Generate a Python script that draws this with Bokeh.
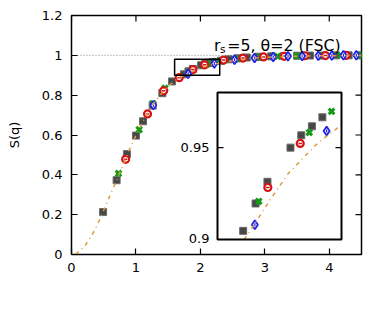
import numpy as np
from bokeh.plotting import figure
from bokeh.models import Range1d, FixedTicker, Span, Label
from bokeh.embed import file_html
from bokeh.resources import INLINE

# ---------------- data ----------------
gray_q = [0.49, 0.70, 0.86, 1.00, 1.11, 1.26, 1.41, 1.56, 1.745, 1.815, 1.882, 2.012, 2.073, 2.133,
          2.192, 2.32, 2.44, 2.58, 2.72, 2.90, 3.10, 3.30, 3.50, 3.70, 3.90, 4.10, 4.30, 4.50]
gray_S = [0.213, 0.373, 0.504, 0.597, 0.669, 0.748, 0.810, 0.869, 0.9047, 0.9196, 0.9314, 0.950, 0.9567, 0.9616,
          0.9665, 0.973, 0.980, 0.985, 0.989, 0.993, 0.995, 0.997, 0.998, 0.999, 0.999, 1.0, 1.0, 1.0]

green_q = [0.73, 1.05, 1.26, 1.45, 1.833, 2.118, 2.244, 2.55, 2.87, 3.20, 3.50, 3.85, 4.18, 4.50]
green_S = [0.407, 0.627, 0.758, 0.835, 0.9208, 0.9582, 0.9697, 0.982, 0.990, 0.995, 0.997, 0.999, 1.0, 1.0]

red_q = [0.84, 1.18, 1.43, 1.67, 1.884, 2.067, 2.36, 2.66, 2.98, 3.30, 3.62, 3.94, 4.26]
red_S = [0.478, 0.706, 0.822, 0.888, 0.9283, 0.9523, 0.976, 0.986, 0.992, 0.995, 0.998, 0.999, 1.0]

blue_q = [1.27, 1.811, 2.216, 2.53, 2.84, 3.13, 3.36, 3.58, 3.83, 4.04, 4.22, 4.42]
blue_S = [0.750, 0.908, 0.9591, 0.978, 0.987, 0.992, 0.995, 0.997, 0.998, 0.999, 1.0, 1.0]

line_q = [0.06, 0.10, 0.20, 0.30, 0.40, 0.50, 0.60, 0.70, 0.80, 0.90, 1.00, 1.10, 1.20, 1.30, 1.40,
          1.50, 1.60, 1.70, 1.80, 1.90, 2.00, 2.075, 2.15, 2.20, 2.295, 2.40, 2.60, 2.80, 3.00,
          3.50, 4.00, 4.50]
line_S = [0.003, 0.010, 0.040, 0.088, 0.148, 0.222, 0.298, 0.372, 0.450, 0.528, 0.598, 0.663, 0.720,
          0.770, 0.810, 0.845, 0.872, 0.893, 0.907, 0.922, 0.936, 0.9435, 0.951, 0.955, 0.962, 0.968,
          0.978, 0.985, 0.990, 0.996, 0.998, 0.999]

x_ticks = [0, 1, 2, 3, 4]
y_ticks = [0, 0.2, 0.4, 0.6, 0.8, 1, 1.2]
y_tick_labels = {0: "0", 1: "1"}
xlim = [0, 4.5]
ylim = [0, 1.2]
ref_level = 1.0

inset_xlim = [1.6, 2.3]
inset_ylim = [0.9, 0.98]
inset_y_ticks = [0.95]
inset_y_labels = ["0.9", "0.95"]
inset_y_label_vals = [0.9, 0.95]

title_main = "=5, θ=2 (FSC)"
title_r = "r"
title_sub = "s"
xlabel_main = "q/q"
xlabel_sub = "F"
ylabel = "S(q)"

# ---------------- layout ----------------
W, H = 378, 312
BL, BR, BT, BB = 71, 17, 15, 58
FW, FH = W - BL - BR, H - BT - BB
INS_L, INS_R, INS_T, INS_B = 146, 270, 77, 224   # inset box, px within frame
TICK = 6

FONT = "DejaVu Sans"
ORANGE = "#e09a40"
GRAY = "#474747"
GREEN = "#159a15"
RED = "#d41414"
BLUE = "#2222e6"

p = figure(width=W, height=H, x_range=Range1d(*xlim), y_range=Range1d(*ylim),
           output_backend="svg", toolbar_location=None,
           min_border_left=BL, min_border_right=BR, min_border_top=BT, min_border_bottom=BB)
p.background_fill_color = "white"
p.border_fill_color = "white"
p.outline_line_color = "black"
p.outline_line_width = 1.5
p.xgrid.visible = False
p.ygrid.visible = False

def style_axis(ax, ticks):
    ax.ticker = FixedTicker(ticks=ticks)
    ax.major_tick_in = TICK
    ax.major_tick_out = 0
    ax.major_tick_line_color = "black"
    ax.major_tick_line_width = 1.2
    ax.minor_tick_line_color = None
    ax.axis_line_color = None
    ax.major_label_text_font = FONT
    ax.major_label_text_color = "black"
    ax.major_label_text_font_size = "13px"

style_axis(p.xaxis[0], x_ticks)
p.xaxis[0].major_label_standoff = 8
style_axis(p.yaxis[0], y_ticks)
p.yaxis[0].major_label_overrides = y_tick_labels
p.yaxis[0].major_label_standoff = 9
p.yaxis[0].axis_label = ylabel
p.yaxis[0].axis_label_text_font = FONT
p.yaxis[0].axis_label_text_font_size = "13px"
p.yaxis[0].axis_label_text_font_style = "normal"
p.yaxis[0].axis_label_text_color = "black"
p.yaxis[0].axis_label_standoff = 17

# mirrored ticks on top and right
dx_px = (xlim[1] - xlim[0]) / FW
dy_px = (ylim[1] - ylim[0]) / FH
p.segment(x0=x_ticks, x1=x_ticks, y0=[ylim[1]] * len(x_ticks), y1=[ylim[1] - TICK * dy_px] * len(x_ticks),
          line_color="black", line_width=1.2)
p.segment(x0=[xlim[1]] * len(y_ticks), x1=[xlim[1] - TICK * dx_px] * len(y_ticks), y0=y_ticks, y1=y_ticks,
          line_color="black", line_width=1.2)

# extra ranges for the inset
sx = (inset_xlim[1] - inset_xlim[0]) / (INS_R - INS_L)
sy = (inset_ylim[1] - inset_ylim[0]) / (INS_B - INS_T)
p.extra_x_ranges = {"ix": Range1d(inset_xlim[0] - INS_L * sx, inset_xlim[1] + (FW - INS_R) * sx)}
p.extra_y_ranges = {"iy": Range1d(inset_ylim[0] - (FH - INS_B) * sy, inset_ylim[1] + INS_T * sy)}

p.add_layout(Span(location=ref_level, dimension="width", line_color="#888888",
                  line_dash="1 2", line_width=1, level="underlay"))

def draw_points(gq, gs, grq, grs, rq, rs, bq, bs, **kw):
    p.scatter(gq, gs, marker="square", size=7, fill_color=GRAY, line_color="#6a6a6a",
              line_width=1, **kw)
    p.scatter(grq, grs, marker="x", size=8, line_color=GREEN, line_width=3, **kw)
    p.scatter(rq, rs, marker="circle", size=7, fill_color="white", line_color=RED,
              line_width=2.2, **kw)
    p.scatter(rq, rs, marker="dash", size=3.5, line_color=RED, line_width=1.5, **kw)
    p.scatter(bq, bs, marker="diamond", size=9, fill_color="white", line_color=BLUE,
              line_width=1.8, **kw)
    p.scatter(bq, bs, marker="dash", angle=np.pi / 2, size=3, line_color=BLUE, line_width=1.2, **kw)

# main
draw_points(gray_q, gray_S, green_q, green_S, red_q, red_S, blue_q, blue_S)
p.line(line_q, line_S, line_color=ORANGE, line_width=1.5, line_dash="4 4 1 4")
p.quad(left=[inset_xlim[0]], right=[inset_xlim[1]], bottom=[inset_ylim[0]], top=[inset_ylim[1]],
       fill_color=None, line_color="black", line_width=1.5)

# inset
IK = dict(x_range_name="ix", y_range_name="iy")
p.quad(left=[inset_xlim[0]], right=[inset_xlim[1]], bottom=[inset_ylim[0]], top=[inset_ylim[1]],
       fill_color="white", line_color=None, **IK)

def inside(q, s):
    pts = [(a, b) for a, b in zip(q, s)
           if inset_xlim[0] <= a <= inset_xlim[1] and inset_ylim[0] <= b <= inset_ylim[1]]
    return [a for a, _ in pts], [b for _, b in pts]

draw_points(*inside(gray_q, gray_S), *inside(green_q, green_S), *inside(red_q, red_S),
            *inside(blue_q, blue_S), **IK)
qd = np.linspace(inset_xlim[0], inset_xlim[1], 1401)
sd = np.interp(qd, line_q, line_S)
m = (sd >= inset_ylim[0]) & (sd <= inset_ylim[1])
p.line(qd[m], sd[m], line_color=ORANGE, line_width=1.5, line_dash="4 4 1 4", **IK)

tick_dx = TICK * sx
p.segment(x0=[inset_xlim[0]] * len(inset_y_ticks), x1=[inset_xlim[0] + tick_dx] * len(inset_y_ticks),
          y0=inset_y_ticks, y1=inset_y_ticks, line_color="black", line_width=1.2, **IK)
p.segment(x0=[inset_xlim[1]] * len(inset_y_ticks), x1=[inset_xlim[1] - tick_dx] * len(inset_y_ticks),
          y0=inset_y_ticks, y1=inset_y_ticks, line_color="black", line_width=1.2, **IK)
p.quad(left=[inset_xlim[0]], right=[inset_xlim[1]], bottom=[inset_ylim[0]], top=[inset_ylim[1]],
       fill_color=None, line_color="black", line_width=2, **IK)
for txt, val in zip(inset_y_labels, inset_y_label_vals):
    p.add_layout(Label(x=inset_xlim[0], y=val, text=txt, x_offset=-8, y_offset=1 if val == inset_ylim[0] else 0,
                       text_align="right", text_baseline="middle", text_font=FONT,
                       text_font_size="13px", text_color="black", **IK))

# title text r_s=5, θ=2 (FSC)
TX, TY = 2.21, 1.049
p.add_layout(Label(x=TX, y=TY, text=title_r, text_font=FONT, text_font_size="15.8px",
                   text_baseline="alphabetic", text_color="black"))
p.add_layout(Label(x=TX, y=TY, text=title_sub, x_offset=6.2, y_offset=-3.5, text_font=FONT,
                   text_font_size="10.5px", text_baseline="alphabetic", text_color="black"))
p.add_layout(Label(x=TX, y=TY, text=title_main, x_offset=13.3, text_font=FONT, text_font_size="15.8px",
                   text_baseline="alphabetic", text_color="black"))

# x axis label q/q_F
LX, LY = 2.044, -0.231
p.add_layout(Label(x=LX, y=LY, text=xlabel_main, text_font=FONT, text_font_size="13px",
                   text_baseline="alphabetic", text_color="black"))
p.add_layout(Label(x=LX, y=LY, text=xlabel_sub, x_offset=21.5, y_offset=-6, text_font=FONT,
                   text_font_size="9.5px", text_baseline="alphabetic", text_color="black"))

open("out.html", "w").write(file_html(p, INLINE))
